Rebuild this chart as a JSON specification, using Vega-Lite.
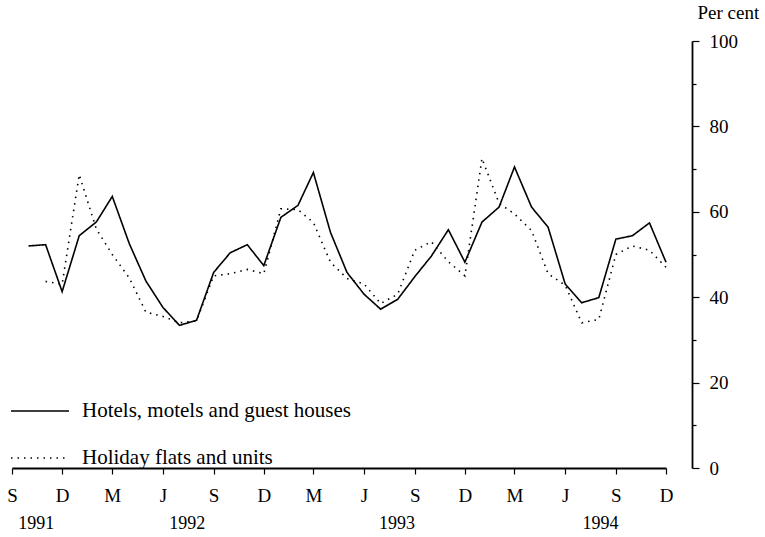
{
  "$schema": "https://vega.github.io/schema/vega-lite/v6.json",
  "width": 654,
  "height": 427,
  "autosize": {"type": "none"},
  "padding": {"left": 12, "top": 41, "right": 99, "bottom": 69},
  "background": "white",
  "config": {
    "view": {"stroke": null},
    "font": "Liberation Serif",
    "axis": {"grid": false, "labelFont": "Liberation Serif", "titleFont": "Liberation Serif", "labelColor": "black", "titleColor": "black", "domainColor": "black", "tickColor": "black"},
    "legend": {"labelFont": "Liberation Serif", "labelColor": "black"}
  },
  "data": {
    "values": [
      {"month": "1991-10-01", "series": "Hotels, motels and guest houses", "pct": 52.0},
      {"month": "1991-11-01", "series": "Hotels, motels and guest houses", "pct": 52.3},
      {"month": "1991-12-01", "series": "Hotels, motels and guest houses", "pct": 41.3},
      {"month": "1992-01-01", "series": "Hotels, motels and guest houses", "pct": 54.4},
      {"month": "1992-02-01", "series": "Hotels, motels and guest houses", "pct": 57.6},
      {"month": "1992-03-01", "series": "Hotels, motels and guest houses", "pct": 63.6},
      {"month": "1992-04-01", "series": "Hotels, motels and guest houses", "pct": 52.5},
      {"month": "1992-05-01", "series": "Hotels, motels and guest houses", "pct": 43.8},
      {"month": "1992-06-01", "series": "Hotels, motels and guest houses", "pct": 37.6},
      {"month": "1992-07-01", "series": "Hotels, motels and guest houses", "pct": 33.4},
      {"month": "1992-08-01", "series": "Hotels, motels and guest houses", "pct": 34.6},
      {"month": "1992-09-01", "series": "Hotels, motels and guest houses", "pct": 45.8},
      {"month": "1992-10-01", "series": "Hotels, motels and guest houses", "pct": 50.4},
      {"month": "1992-11-01", "series": "Hotels, motels and guest houses", "pct": 52.3},
      {"month": "1992-12-01", "series": "Hotels, motels and guest houses", "pct": 47.4},
      {"month": "1993-01-01", "series": "Hotels, motels and guest houses", "pct": 58.7},
      {"month": "1993-02-01", "series": "Hotels, motels and guest houses", "pct": 61.5},
      {"month": "1993-03-01", "series": "Hotels, motels and guest houses", "pct": 69.2},
      {"month": "1993-04-01", "series": "Hotels, motels and guest houses", "pct": 55.2},
      {"month": "1993-05-01", "series": "Hotels, motels and guest houses", "pct": 45.8},
      {"month": "1993-06-01", "series": "Hotels, motels and guest houses", "pct": 40.7},
      {"month": "1993-07-01", "series": "Hotels, motels and guest houses", "pct": 37.2},
      {"month": "1993-08-01", "series": "Hotels, motels and guest houses", "pct": 39.5},
      {"month": "1993-09-01", "series": "Hotels, motels and guest houses", "pct": 44.8},
      {"month": "1993-10-01", "series": "Hotels, motels and guest houses", "pct": 49.6},
      {"month": "1993-11-01", "series": "Hotels, motels and guest houses", "pct": 55.8},
      {"month": "1993-12-01", "series": "Hotels, motels and guest houses", "pct": 48.2},
      {"month": "1994-01-01", "series": "Hotels, motels and guest houses", "pct": 57.6},
      {"month": "1994-02-01", "series": "Hotels, motels and guest houses", "pct": 61.1},
      {"month": "1994-03-01", "series": "Hotels, motels and guest houses", "pct": 70.5},
      {"month": "1994-04-01", "series": "Hotels, motels and guest houses", "pct": 61.1},
      {"month": "1994-05-01", "series": "Hotels, motels and guest houses", "pct": 56.4},
      {"month": "1994-06-01", "series": "Hotels, motels and guest houses", "pct": 43.1},
      {"month": "1994-07-01", "series": "Hotels, motels and guest houses", "pct": 38.7},
      {"month": "1994-08-01", "series": "Hotels, motels and guest houses", "pct": 39.9},
      {"month": "1994-09-01", "series": "Hotels, motels and guest houses", "pct": 53.6},
      {"month": "1994-10-01", "series": "Hotels, motels and guest houses", "pct": 54.4},
      {"month": "1994-11-01", "series": "Hotels, motels and guest houses", "pct": 57.4},
      {"month": "1994-12-01", "series": "Hotels, motels and guest houses", "pct": 48.2},
      {"month": "1991-11-01", "series": "Holiday flats and units", "pct": 43.7},
      {"month": "1991-12-01", "series": "Holiday flats and units", "pct": 43.0},
      {"month": "1992-01-01", "series": "Holiday flats and units", "pct": 68.7},
      {"month": "1992-02-01", "series": "Holiday flats and units", "pct": 56.0},
      {"month": "1992-03-01", "series": "Holiday flats and units", "pct": 50.0},
      {"month": "1992-04-01", "series": "Holiday flats and units", "pct": 44.5},
      {"month": "1992-05-01", "series": "Holiday flats and units", "pct": 36.5},
      {"month": "1992-06-01", "series": "Holiday flats and units", "pct": 35.5},
      {"month": "1992-07-01", "series": "Holiday flats and units", "pct": 34.0},
      {"month": "1992-08-01", "series": "Holiday flats and units", "pct": 34.5},
      {"month": "1992-09-01", "series": "Holiday flats and units", "pct": 45.0},
      {"month": "1992-10-01", "series": "Holiday flats and units", "pct": 45.5},
      {"month": "1992-11-01", "series": "Holiday flats and units", "pct": 46.5},
      {"month": "1992-12-01", "series": "Holiday flats and units", "pct": 45.5},
      {"month": "1993-01-01", "series": "Holiday flats and units", "pct": 60.7},
      {"month": "1993-02-01", "series": "Holiday flats and units", "pct": 60.5},
      {"month": "1993-03-01", "series": "Holiday flats and units", "pct": 57.5},
      {"month": "1993-04-01", "series": "Holiday flats and units", "pct": 48.2},
      {"month": "1993-05-01", "series": "Holiday flats and units", "pct": 44.4},
      {"month": "1993-06-01", "series": "Holiday flats and units", "pct": 43.1},
      {"month": "1993-07-01", "series": "Holiday flats and units", "pct": 38.5},
      {"month": "1993-08-01", "series": "Holiday flats and units", "pct": 40.7},
      {"month": "1993-09-01", "series": "Holiday flats and units", "pct": 51.0},
      {"month": "1993-10-01", "series": "Holiday flats and units", "pct": 53.0},
      {"month": "1993-11-01", "series": "Holiday flats and units", "pct": 48.3},
      {"month": "1993-12-01", "series": "Holiday flats and units", "pct": 45.0},
      {"month": "1994-01-01", "series": "Holiday flats and units", "pct": 72.5},
      {"month": "1994-02-01", "series": "Holiday flats and units", "pct": 62.0},
      {"month": "1994-03-01", "series": "Holiday flats and units", "pct": 59.5},
      {"month": "1994-04-01", "series": "Holiday flats and units", "pct": 55.6},
      {"month": "1994-05-01", "series": "Holiday flats and units", "pct": 45.5},
      {"month": "1994-06-01", "series": "Holiday flats and units", "pct": 42.8},
      {"month": "1994-07-01", "series": "Holiday flats and units", "pct": 34.0},
      {"month": "1994-08-01", "series": "Holiday flats and units", "pct": 34.8},
      {"month": "1994-09-01", "series": "Holiday flats and units", "pct": 50.0},
      {"month": "1994-10-01", "series": "Holiday flats and units", "pct": 52.0},
      {"month": "1994-11-01", "series": "Holiday flats and units", "pct": 51.0},
      {"month": "1994-12-01", "series": "Holiday flats and units", "pct": 47.0}
    ]
  },
  "layer": [
    {
      "mark": {"type": "line", "color": "black", "strokeWidth": 1.6, "strokeCap": "butt"},
      "encoding": {
        "x": {
          "field": "month", "type": "temporal",
          "scale": {"type": "utc", "domain": [{"year": 1991, "month": 9, "date": 1, "utc": true}, {"year": 1994, "month": 12, "date": 1, "utc": true}]},
          "axis": {
            "title": null,
            "orient": "bottom",
            "values": [
              {"year": 1991, "month": 9, "date": 1, "utc": true},
              {"year": 1991, "month": 12, "date": 1, "utc": true},
              {"year": 1992, "month": 3, "date": 1, "utc": true},
              {"year": 1992, "month": 6, "date": 1, "utc": true},
              {"year": 1992, "month": 9, "date": 1, "utc": true},
              {"year": 1992, "month": 12, "date": 1, "utc": true},
              {"year": 1993, "month": 3, "date": 1, "utc": true},
              {"year": 1993, "month": 6, "date": 1, "utc": true},
              {"year": 1993, "month": 9, "date": 1, "utc": true},
              {"year": 1993, "month": 12, "date": 1, "utc": true},
              {"year": 1994, "month": 3, "date": 1, "utc": true},
              {"year": 1994, "month": 6, "date": 1, "utc": true},
              {"year": 1994, "month": 9, "date": 1, "utc": true},
              {"year": 1994, "month": 12, "date": 1, "utc": true}
            ],
            "labelExpr": "substring(utcFormat(datum.value, '%b'), 0, 1)",
            "labelFontSize": 19,
            "labelPadding": 12,
            "labelFlush": false,
            "labelOverlap": false,
            "tickSize": 6,
            "tickWidth": 1.2,
            "domainWidth": 1.8
          }
        },
        "y": {
          "field": "pct", "type": "quantitative",
          "scale": {"domain": [0, 100], "nice": false},
          "axis": {
            "orient": "right",
            "offset": 26,
            "values": [0, 20, 40, 60, 80, 100],
            "title": "Per cent",
            "titleAngle": 0,
            "titleAlign": "left",
            "titleBaseline": "alphabetic",
            "titleX": 5,
            "titleY": -23,
            "titleFontSize": 19,
            "titleFontWeight": "normal",
            "labelFontSize": 19,
            "labelPadding": 10,
            "tickSize": 7,
            "tickWidth": 1.2,
            "domainWidth": 1.8
          }
        },
        "strokeDash": {
          "field": "series", "type": "nominal",
          "scale": {"domain": ["Hotels, motels and guest houses", "Holiday flats and units"], "range": [[1, 0], [1.5, 5]]},
          "legend": {
            "title": null,
            "orient": "none",
            "legendX": -2,
            "legendY": 340,
            "padding": 0,
            "symbolType": "stroke",
            "symbolSize": 3364,
            "symbolStrokeWidth": 1.6,
            "symbolStrokeColor": "black",
            "labelFontSize": 21,
            "labelOffset": 12,
            "rowPadding": 7,
            "labelLimit": 400
          }
        }
      }
    },
    {
      "mark": {"type": "point", "opacity": 0},
      "encoding": {
        "x": {
          "field": "month", "type": "temporal",
          "axis": {
            "title": null,
            "orient": "bottom",
            "values": [
              {"year": 1991, "month": 10, "date": 14, "utc": true},
              {"year": 1992, "month": 7, "date": 14, "utc": true},
              {"year": 1993, "month": 7, "date": 30, "utc": true},
              {"year": 1994, "month": 8, "date": 3, "utc": true}
            ],
            "labelExpr": "utcFormat(datum.value, '%Y')",
            "labelFontSize": 18,
            "labelFlush": false,
            "labelOverlap": false,
            "domain": false,
            "ticks": false,
            "tickSize": 0,
            "labelPadding": 46
          }
        },
        "y": {
          "field": "pct", "type": "quantitative",
          "axis": {
            "orient": "right",
            "offset": 26,
            "title": null,
            "values": [10, 30, 50, 70, 90],
            "labels": false,
            "domain": false,
            "tickSize": 4,
            "tickWidth": 1.2
          }
        }
      }
    }
  ],
  "resolve": {"axis": {"x": "independent", "y": "independent"}}
}
